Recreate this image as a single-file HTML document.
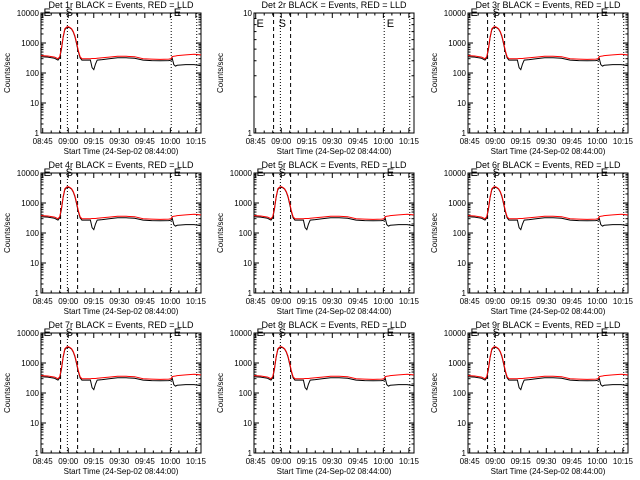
<!DOCTYPE html>
<html><head><meta charset="utf-8"><style>
html,body{margin:0;padding:0;background:#fff;}
svg{display:block;font-family:"Liberation Sans",sans-serif;}
</style></head><body>
<svg id="chart" width="640" height="480" viewBox="0 0 640 480"></svg>
<script>
const detLabels = ["1r","2r","3r","4r","5r","6r","7r","8r","9r"];
const tickLabels = ["08:45","09:00","09:15","09:30","09:45","10:00","10:15"];
const tickMinutes = [1,16,31,46,61,76,91];
const timeMin = [0,4,8,10,11,12,13,14,15,16,17,18,19,20,21,22,23,24,26,29,30,31,32,33,36,40,45,50,55,60,65,70,75,76.5,77,78,79,80,85,90,94];
const blackCounts = [350,340,310,270,320,600,1500,2800,3200,3300,3200,2900,2300,1600,900,500,320,270,270,270,150,130,200,270,280,300,320,320,310,270,260,255,260,270,320,190,170,180,190,190,175];
const redCounts = [380,370,340,300,350,650,1600,3000,3400,3500,3300,3000,2400,1700,1000,550,350,300,300,300,305,305,305,310,320,340,360,360,350,300,290,285,290,300,350,360,370,380,400,420,400];
const hasData = [true,false,true,true,true,true,true,true,true];

const NS="http://www.w3.org/2000/svg";
const svg=document.getElementById('chart');
function mk(tag,attrs,parent){const e=document.createElementNS(NS,tag);for(const k in attrs)e.setAttribute(k,attrs[k]);(parent||svg).appendChild(e);return e;}

const PX0=41,PX1=201,PY0=13,PY1=133,TMAX=94;
for(let p=0;p<9;p++){
  const ox=Math.round((p%3)*213.33), oy=Math.floor(p/3)*160;
  const g=mk('g',{transform:`translate(${ox},${oy})`});
  
  
  const xs=t=>PX0+(t/TMAX)*(PX1-PX0);
  const decades=hasData[p]?4:1;
  const ys=v=>PY1-(Math.log10(v)/decades)*(PY1-PY0);
  const ti=mk('text',{x:(PX0+PX1)/2,y:8,'text-anchor':'middle','font-size':'9'},g);
  ti.textContent='Det '+detLabels[p]+' BLACK = Events, RED = LLD';
  
  
  const fr=mk('rect',{x:PX0,y:PY0,width:PX1-PX0,height:PY1-PY0,fill:'none',stroke:'#000','stroke-width':1},g);
  
  
  for(let i=0;i<tickMinutes.length;i++){
    const x=xs(tickMinutes[i]);
    mk('line',{x1:x,y1:PY1,x2:x,y2:PY1-5,stroke:'#000'},g);
    mk('line',{x1:x,y1:PY0,x2:x,y2:PY0+5,stroke:'#000'},g);
    for(let m=5;m<15;m+=5){const xm=xs(tickMinutes[i]+m); if(xm<PX1){mk('line',{x1:xm,y1:PY1,x2:xm,y2:PY1-2.5,stroke:'#000'},g);mk('line',{x1:xm,y1:PY0,x2:xm,y2:PY0+2.5,stroke:'#000'},g);}}
    const tl=mk('text',{x:x,y:PY1+11,'text-anchor':'middle','font-size':'8'},g);
    tl.textContent=tickLabels[i];
    
    
  }
  const xt=mk('text',{x:(PX0+PX1)/2,y:PY1+21,'text-anchor':'middle','font-size':'8'},g);
  xt.textContent='Start Time (24-Sep-02 08:44:00)';
  
  
  for(let d=0;d<=decades;d++){
    const v=Math.pow(10,d),y=ys(v);
    mk('line',{x1:PX0,y1:y,x2:PX0+5,y2:y,stroke:'#000'},g);
    mk('line',{x1:PX1,y1:y,x2:PX1-5,y2:y,stroke:'#000'},g);
    const yl=mk('text',{x:PX0-2,y:y+3,'text-anchor':'end','font-size':'8'},g);
    yl.textContent=String(v);
    
    
    if(d<decades)for(let k=2;k<10;k++){const ym=ys(v*k);mk('line',{x1:PX0,y1:ym,x2:PX0+2.5,y2:ym,stroke:'#000'},g);mk('line',{x1:PX1,y1:ym,x2:PX1-2.5,y2:ym,stroke:'#000'},g);}
  }
  const yt=mk('text',{x:0,y:0,'text-anchor':'middle','font-size':'8',transform:`translate(10,${(PY0+PY1)/2}) rotate(-90)`},g);
  yt.textContent='Counts/sec';
  
  
  [[11.5,'4,3'],[15.5,'1,2'],[21.5,'4,3'],[76.5,'1,2'],[91.5,'1,2']].forEach(m=>{
    const x=xs(m[0]);
    const l=mk('line',{x1:x,y1:PY0,x2:x,y2:PY1,stroke:'#000','stroke-dasharray':m[1]},g);
    
    
  });
  [[1.5,'E'],[14.5,'S'],[78,'E']].forEach(m=>{
    const t=mk('text',{x:xs(m[0]),y:hasData[p]?PY0+3:PY0+14,'font-size':'11'},g);
    t.textContent=m[1];
    
    
  });
  if(hasData[p]){
    [[blackCounts,'#000','black-events-line'],[redCounts,'#f00','red-lld-line']].forEach(s=>{
      const pts=timeMin.map((t,i)=>xs(t).toFixed(1)+','+ys(s[0][i]).toFixed(1)).join(' ');
      const pl=mk('polyline',{points:pts,fill:'none',stroke:s[1],'stroke-width':1},g);
      
      
    });
  }
}
</script>
</body></html>
